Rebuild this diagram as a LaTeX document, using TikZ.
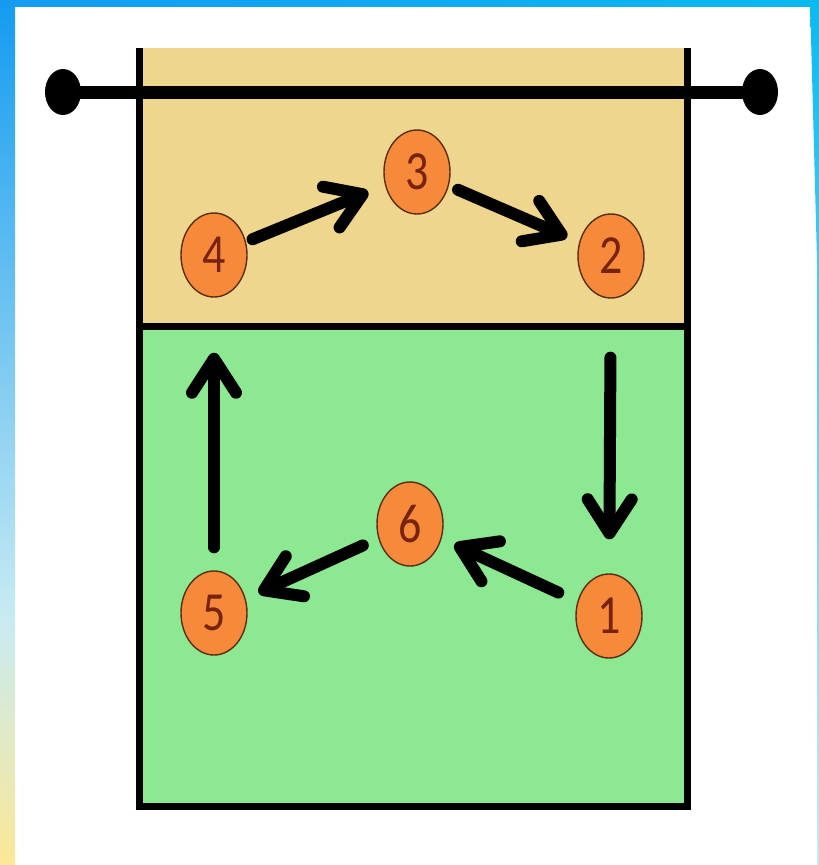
\documentclass[tikz,border=0pt]{standalone}
\usepackage{fontspec}
\newfontfamily\numfont{Carlito}
\usetikzlibrary{arrows.meta,shapes.geometric}
\definecolor{tanc}{RGB}{238,214,142}
\definecolor{greenc}{RGB}{140,232,145}
\definecolor{playerfill}{RGB}{246,138,58}
\definecolor{playerline}{RGB}{90,45,20}
\definecolor{numcol}{RGB}{120,34,16}
\definecolor{frameblue}{RGB}{20,155,240}
\definecolor{framecyan}{RGB}{10,185,240}
\definecolor{framelight}{RGB}{200,235,242}
\definecolor{frameyellow}{RGB}{252,232,150}
\begin{document}
\begin{tikzpicture}[x=1pt,y=-1pt,
  player/.style={ellipse, draw=playerline, line width=1.4pt, fill=playerfill,
    minimum width=66pt, minimum height=84pt, inner sep=0pt, text=numcol,
    font=\numfont\fontsize{46}{46}\selectfont},
  mover/.style={line width=12pt, line cap=round, line join=round,
    -{Straight Barb[length=34pt,width=44pt,round]}},
  courtline/.style={line width=7pt},
  netdot/.style={ellipse, fill=black, minimum width=36pt, minimum height=46pt, inner sep=0pt},
]
\useasboundingbox (0,0) rectangle (819,865);
\fill[white] (0,0) rectangle (819,865);
% frame
\shade[top color=frameblue, bottom color=framelight] (0,0) rectangle (15,620);
\shade[top color=framelight, bottom color=frameyellow] (0,620) rectangle (15,865);
\shade[left color=frameblue, right color=framecyan] (0,0) rectangle (819,6);
\shade[top color=framecyan, bottom color=framelight] (810,0) -- (819,0) -- (819,865) -- (817,865) -- (817,260) -- cycle;
% court
\fill[tanc] (139,48) rectangle (687,326);
\fill[greenc] (139,326) rectangle (687,806);
\draw[courtline, line join=miter] (139,48) -- (139,806) -- (687,806) -- (687,48);
\draw[line width=7pt] (139,326) -- (687,326);
% net
\node[netdot] (netL) at (63,92) {};
\node[netdot] (netR) at (760,92) {};
\draw[line width=13pt] (netL.center) -- (netR.center);
% players
\node[player] (p3) at (417,172) {\scalebox{1}[1.2]{3}};
\node[player] (p4) at (214,255) {\scalebox{1}[1.2]{4}};
\node[player] (p2) at (611,256) {\scalebox{1}[1.2]{2}};
\node[player] (p6) at (410,524) {\scalebox{1}[1.2]{6}};
\node[player] (p5) at (214,613) {\scalebox{1}[1.2]{5}};
\node[player] (p1) at (609,616) {\scalebox{1}[1.2]{1}};
% rotation arrows
\draw[mover, shorten <=7pt, shorten >=18pt] (p4) -- (p3);
\draw[mover, shorten <=10pt, shorten >=13pt] (p3) -- (p2);
\draw[mover, shorten <=59pt, shorten >=34pt] (p2) -- (p1);
\draw[mover, shorten <=21pt, shorten >=14pt] (p1) -- (p6);
\draw[mover, shorten <=17pt, shorten >=14pt] (p6) -- (p5);
\draw[mover, shorten <=23pt, shorten >=55pt] (p5) -- (p4);
\end{tikzpicture}
\end{document}
